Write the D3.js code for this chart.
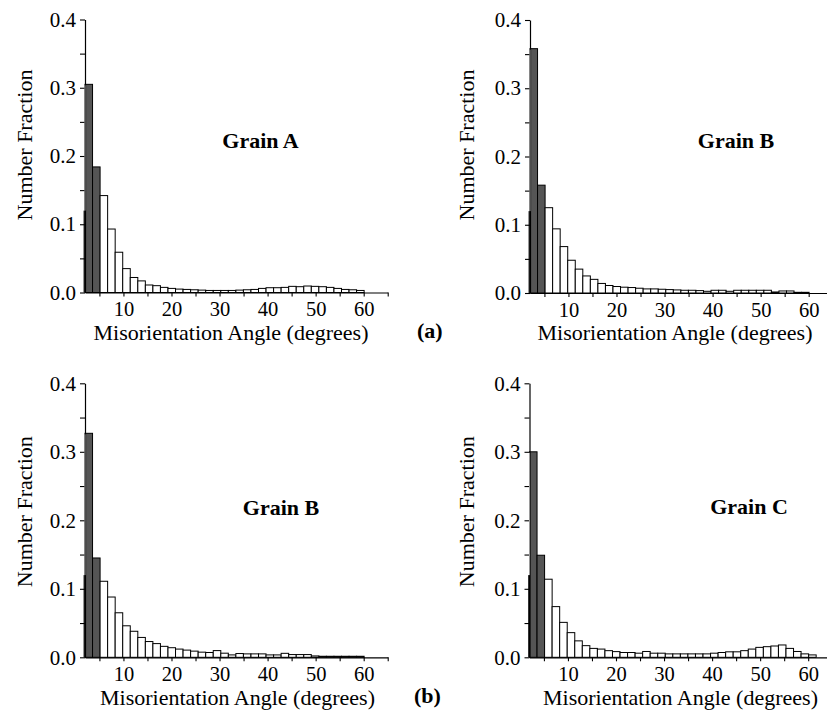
<!DOCTYPE html>
<html><head><meta charset="utf-8">
<script src="https://cdn.jsdelivr.net/npm/d3@7"></script>
<style>html,body{margin:0;padding:0;background:#fff}</style>
</head><body>
<svg id="c" width="827" height="713"></svg>
<script>
// ---- data ----
const binStart = 2;          // degrees, first bin left edge
const binWidth = 1.57;       // degrees per bin
const lowAngleCount = 2;     // dark (low-angle) bins
const xDomain = [2, 65];
const yDomain = [0, 0.4];
const xTicks = [5, 10, 15, 20, 25, 30, 35, 40, 45, 50, 55, 60, 65];
const xTickLabels = [10, 20, 30, 40, 50, 60];
const yTicks = [0, 0.05, 0.1, 0.15, 0.2, 0.25, 0.3, 0.35, 0.4];
const yTickLabels = [0, 0.1, 0.2, 0.3, 0.4];
const panelTitles = ["Grain A", "Grain B", "Grain B", "Grain C"];
const groupLabels = ["(a)", "(b)"];
const xAxisTitle = "Misorientation Angle (degrees)";
const yAxisTitle = "Number Fraction";
const hiddenBarValue = 0.12;

const grainA_a = [0.305, 0.184, 0.142, 0.093, 0.059, 0.035, 0.022, 0.017, 0.011, 0.010, 0.0075, 0.006, 0.005, 0.0045, 0.004, 0.0035, 0.003, 0.003, 0.003, 0.003, 0.0035, 0.004, 0.0045, 0.006, 0.007, 0.007, 0.0075, 0.009, 0.0085, 0.0095, 0.009, 0.0085, 0.0075, 0.006, 0.0045, 0.004, 0.003];
const grainB_a = [0.358, 0.158, 0.125, 0.094, 0.068, 0.048, 0.035, 0.025, 0.020, 0.014, 0.011, 0.0095, 0.0085, 0.008, 0.007, 0.006, 0.006, 0.0055, 0.005, 0.0045, 0.004, 0.004, 0.0035, 0.0025, 0.004, 0.004, 0.0025, 0.004, 0.004, 0.004, 0.004, 0.004, 0.0015, 0.003, 0.003, 0.001, 0.001];
const grainB_b = [0.327, 0.145, 0.111, 0.088, 0.065, 0.046, 0.038, 0.029, 0.023, 0.020, 0.016, 0.014, 0.012, 0.0105, 0.009, 0.0075, 0.007, 0.0098, 0.006, 0.0035, 0.0055, 0.005, 0.005, 0.005, 0.0035, 0.0035, 0.0058, 0.004, 0.004, 0.004, 0.002, 0.0015, 0.0015, 0.0015, 0.0015, 0.0015, 0.0015];
const grainC_b = [0.300, 0.149, 0.114, 0.074, 0.051, 0.036, 0.024, 0.017, 0.013, 0.012, 0.0097, 0.0083, 0.007, 0.007, 0.006, 0.0085, 0.006, 0.006, 0.005, 0.005, 0.005, 0.005, 0.005, 0.005, 0.006, 0.007, 0.008, 0.008, 0.0097, 0.012, 0.0145, 0.0155, 0.0165, 0.018, 0.013, 0.0085, 0.005, 0.0035];

// ---- layout ----
const FONT = "'Liberation Serif','Times New Roman',serif";
const pxPerDeg = 4.805;
const panels = [
  {values: grainA_a, title: panelTitles[0], x0: 85,    y0: 292.5, y1: 19.5,  tx: 260.5, ty: 148, lx: 32,  ly: 145,   xl: 231,   xly: 340},
  {values: grainB_a, title: panelTitles[1], x0: 530,   y0: 293,   y1: 20,    tx: 736,   ty: 148, lx: 474, ly: 145,   xl: 675,   xly: 340},
  {values: grainB_b, title: panelTitles[2], x0: 85,    y0: 657.3, y1: 383.3, tx: 281,   ty: 515, lx: 32,  ly: 511.7, xl: 237.5, xly: 704.5},
  {values: grainC_b, title: panelTitles[3], x0: 529.5, y0: 657.3, y1: 383.3, tx: 749,   ty: 514, lx: 474, ly: 511.7, xl: 680.5, xly: 704.5}
];
const groupPos = [{x: 417, y: 338}, {x: 414, y: 703}];

const svg = d3.select("#c");

panels.forEach(p => {
  const x = d3.scaleLinear().domain(xDomain).range([p.x0, p.x0 + (xDomain[1] - xDomain[0]) * pxPerDeg]);
  const y = d3.scaleLinear().domain(yDomain).range([p.y0, p.y1]);
  const g = svg.append("g");

  // hidden strip at the axis start
  g.append("rect")
    .attr("x", x(xDomain[0]) - 1.5).attr("width", 2.5)
    .attr("y", y(hiddenBarValue)).attr("height", y(0) - y(hiddenBarValue))
    .attr("fill", "#333");

  g.selectAll("rect.bar").data(p.values).join("rect")
    .attr("class", "bar")
    .attr("x", (d, i) => x(Math.max(xDomain[0], binStart + i * binWidth)))
    .attr("width", (d, i) => x(binStart + (i + 1) * binWidth) - x(Math.max(xDomain[0], binStart + i * binWidth)))
    .attr("y", d => y(d))
    .attr("height", d => y(0) - y(d))
    .attr("fill", (d, i) => i < lowAngleCount ? "#555" : "#fff")
    .attr("stroke", "#000")
    .attr("stroke-width", 1);

  // y axis
  const ya = g.append("g").attr("transform", `translate(${x(xDomain[0])},0)`)
    .call(d3.axisLeft(y).tickValues(yTicks).tickSize(5).tickSizeOuter(0).tickPadding(4)
      .tickFormat(d => yTickLabels.some(v => Math.abs(v - d) < 1e-9) ? d3.format(".1f")(d) : ""));
  ya.attr("font-size", 21);
  // x axis
  const xa = g.append("g").attr("transform", `translate(0,${y(0)})`)
    .call(d3.axisBottom(x).tickValues(xTicks).tickSize(4).tickSizeOuter(0).tickPadding(5)
      .tickFormat(d => xTickLabels.includes(d) ? d : ""));
  xa.attr("font-size", 20.5);
  [ya, xa].forEach(a => {
    a.attr("font-family", FONT);
    a.selectAll("path.domain").attr("stroke", "#000").attr("stroke-width", 1.2);
    a.selectAll(".tick line").attr("stroke", "#000").attr("stroke-width", 1.1);
    a.selectAll(".tick text").attr("fill", "#000");
    a.selectAll(".tick text").filter(function() { return this.textContent === ""; }).remove();
  });

  // light edge of first bar over the axis
  g.append("line")
    .attr("x1", x(xDomain[0])).attr("x2", x(xDomain[0]))
    .attr("y1", y(p.values[0]) + 1).attr("y2", y(hiddenBarValue))
    .attr("stroke", "#9a9a9a").attr("stroke-width", 1);

  g.append("text").text(p.title)
    .attr("x", p.tx).attr("y", p.ty).attr("text-anchor", "middle")
    .attr("font-family", FONT).attr("font-weight", "bold").attr("font-size", 22);

  g.append("text").text(yAxisTitle)
    .attr("transform", `translate(${p.lx},${p.ly}) rotate(-90)`)
    .attr("text-anchor", "middle")
    .attr("font-family", FONT).attr("font-size", 22);

  g.append("text").text(xAxisTitle)
    .attr("x", p.xl).attr("y", p.xly).attr("text-anchor", "middle")
    .attr("font-family", FONT).attr("font-size", 22);
});

groupLabels.forEach((t, i) => {
  svg.append("text").text(t)
    .attr("x", groupPos[i].x).attr("y", groupPos[i].y)
    .attr("font-family", FONT).attr("font-weight", "bold").attr("font-size", 22);
});
</script>
</body></html>
